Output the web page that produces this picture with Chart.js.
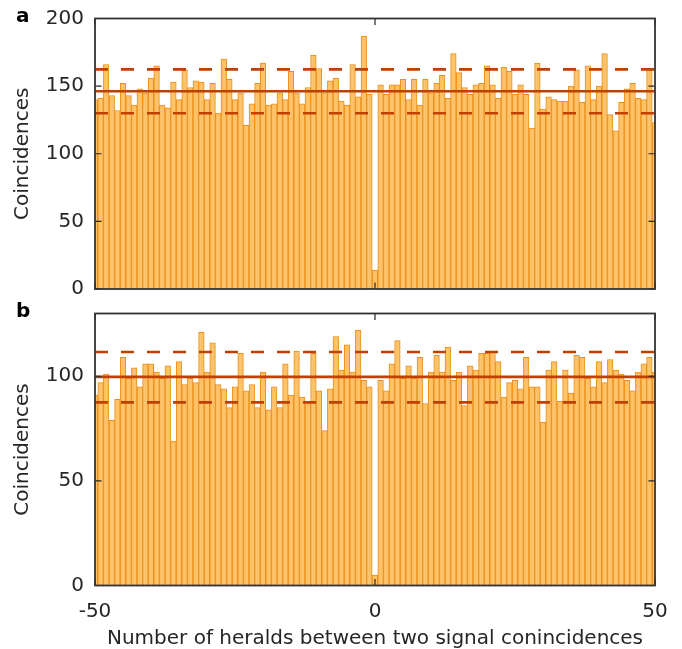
<!DOCTYPE html>
<html><head><meta charset="utf-8">
<script src="https://cdn.jsdelivr.net/npm/chart.js@4/dist/chart.umd.min.js"></script>
<style>
html,body{margin:0;padding:0;background:#fff;}
#wrap{position:relative;width:682px;height:649px;overflow:hidden;font-family:"DejaVu Sans",sans-serif;}
canvas{position:absolute;left:0;}
.lbl{position:absolute;font-family:"DejaVu Sans",sans-serif;font-weight:bold;font-size:20px;line-height:20px;color:#000;}
</style></head>
<body><div id="wrap">
<canvas id="ca" width="682" height="310" style="top:0"></canvas>
<canvas id="cb" width="682" height="355" style="top:300px"></canvas>
<div class="lbl" style="left:16px;top:5px">a</div>
<div class="lbl" style="left:16px;top:300px">b</div>
</div>
<script>
// Number of heralds between two signal coincidences (categories)
const heralds = [-50,-49,-48,-47,-46,-45,-44,-43,-42,-41,-40,-39,-38,-37,-36,-35,-34,-33,-32,-31,-30,-29,-28,-27,-26,-25,-24,-23,-22,-21,-20,-19,-18,-17,-16,-15,-14,-13,-12,-11,-10,-9,-8,-7,-6,-5,-4,-3,-2,-1,0,1,2,3,4,5,6,7,8,9,10,11,12,13,14,15,16,17,18,19,20,21,22,23,24,25,26,27,28,29,30,31,32,33,34,35,36,37,38,39,40,41,42,43,44,45,46,47,48,49,50];
// Panel a coincidences
const coincA = [140,141,166,143,132,152,143,136,148,145,156,165,136,134,153,140,162,149,154,153,140,152,130,170,155,140,145,121,137,152,167,136,137,145,140,161,145,137,149,173,163,145,154,156,139,136,166,142,187,144,14,151,144,151,151,155,140,155,136,155,145,152,158,141,174,160,149,144,151,152,165,151,141,164,161,144,151,144,119,167,133,142,140,139,139,150,162,138,165,140,150,174,129,117,138,148,152,141,140,162,123];
// Panel b coincidences
const coincB = [91,97,101,79,89,109,99,104,95,106,106,102,99,105,69,107,96,99,97,121,102,116,96,94,85,95,111,93,96,85,102,84,95,85,106,91,112,90,87,111,93,74,94,119,103,115,102,122,98,95,5,98,93,106,117,99,105,99,109,87,102,110,102,114,98,102,86,105,103,111,111,112,107,90,97,98,94,109,95,95,78,103,107,88,103,92,110,109,99,95,107,97,108,103,101,98,93,102,106,109,102];
// Reference levels: mean, upper, lower
const levelsA = [146.2, 162.4, 129.9];
const levelsB = [99.7, 111.6, 87.5];
// Tick labels
const xTicks = [-50, 0, 50];
const yTicksA = [0, 50, 100, 150, 200];
const yTicksB = [0, 50, 100];
const yMaxA = 200, yMaxB = 130;

const TXT = '#262626';
const FONT = {family: '"DejaVu Sans", sans-serif', size: 20};
const BAR_FILL = 'rgb(254,194,104)';
const BAR_EDGE = 'rgb(236,142,24)';
const LINE_COL = 'rgb(192,64,0)';

const framePlugin = {
  id: 'frame',
  afterDatasetsDraw(chart) {
    const {ctx, chartArea: a, scales: {x, y}} = chart;
    const TL = 6.5;
    ctx.save();
    ctx.strokeStyle = TXT;
    ctx.lineWidth = 1.2;
    ctx.beginPath();
    y.ticks.forEach(t => {
      const py = y.getPixelForValue(t.value);
      ctx.moveTo(a.left, py); ctx.lineTo(a.left + TL, py);
      ctx.moveTo(a.right, py); ctx.lineTo(a.right - TL, py);
    });
    x.ticks.forEach(t => {
      const px = x.getPixelForValue(t.value);
      ctx.moveTo(px, a.top); ctx.lineTo(px, a.top + TL);
      ctx.moveTo(px, a.bottom); ctx.lineTo(px, a.bottom - TL);
    });
    ctx.stroke();
    ctx.lineWidth = 1.8;
    ctx.strokeStyle = '#333';
    ctx.strokeRect(a.left, a.top, a.right - a.left, a.bottom - a.top);
    ctx.restore();
  }
};

function makeChart(id, values, levels, yTicks, yMax, showX, pad, xHeight) {
  const pts = heralds.map((h, i) => ({x: h, y: values[i]}));
  const line = v => [{x: xTicks[0], y: v}, {x: xTicks[xTicks.length - 1], y: v}];
  return new Chart(document.getElementById(id), {
    type: 'bar',
    data: {
      datasets: [
        {type: 'line', data: line(levels[1]), borderColor: LINE_COL, borderWidth: 2.6, borderDash: [13, 13], pointRadius: 0, order: 1},
        {type: 'line', data: line(levels[2]), borderColor: LINE_COL, borderWidth: 2.6, borderDash: [13, 13], pointRadius: 0, order: 1},
        {type: 'line', data: line(levels[0]), borderColor: LINE_COL, borderWidth: 2.6, pointRadius: 0, order: 1},
        {type: 'bar', data: pts, backgroundColor: BAR_FILL, borderColor: BAR_EDGE, borderWidth: 1,
         categoryPercentage: 1, barPercentage: 1, clip: 0, order: 2}
      ]
    },
    options: {
      responsive: false, animation: false, devicePixelRatio: 1,
      layout: {padding: pad},
      plugins: {legend: {display: false}, tooltip: {enabled: false}},
      scales: {
        x: {
          type: 'linear', min: xTicks[0], max: xTicks[xTicks.length - 1], offset: false,
          afterBuildTicks: s => { s.ticks = xTicks.map(v => ({value: v})); },
          grid: {display: false, drawTicks: true, tickLength: 14.7, offset: false}, border: {display: false},
          ticks: {display: showX, color: TXT, font: FONT, padding: 0, maxRotation: 0},
          title: {display: showX, text: 'Number of heralds between two signal conincidences', color: TXT, font: FONT, padding: {top: 0, bottom: 4}},
          afterFit: s => { s.height = xHeight; }
        },
        y: {
          min: 0, max: yMax,
          afterBuildTicks: s => { s.ticks = yTicks.map(v => ({value: v})); },
          grid: {display: false, drawTicks: true, tickLength: 11}, border: {display: false},
          ticks: {color: TXT, font: FONT, padding: 0},
          title: {display: true, text: 'Coincidences', color: TXT, font: FONT, padding: {top: 10.4, bottom: 0}},
          afterFit: s => { s.width = 95; }
        }
      }
    },
    plugins: [framePlugin]
  });
}

makeChart('ca', coincA, levelsA, yTicksA, yMaxA, false, {top: 18.5, right: 27, bottom: 21, left: 0}, 0);
makeChart('cb', coincB, levelsB, yTicksB, yMaxB, true, {top: 13.5, right: 27, bottom: 0, left: 0}, 69.5);
</script>
</body></html>
